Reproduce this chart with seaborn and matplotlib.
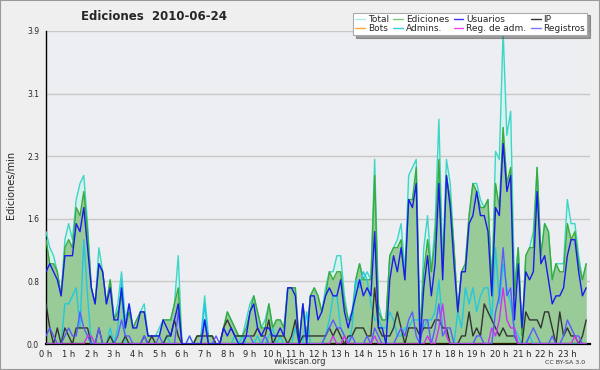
import numpy as np
import pandas as pd
import matplotlib
matplotlib.use("Agg")
import matplotlib.pyplot as plt
from matplotlib.lines import Line2D
from matplotlib.patches import Rectangle
import seaborn as sns

# edits per minute, one value per 10 minutes (6 per hour)
total = [
    1.4, 1.2, 1.1, 0.9, 0.6, 1.3,
    1.5, 1.3, 1.8, 2.0, 2.1, 1.5,
    0.7, 0.5, 1.2, 0.9, 0.5, 0.8,
    0.3, 0.5, 0.9, 0.3, 0.5, 0.2,
    0.3, 0.4, 0.5, 0.1, 0.1, 0.1,
    0.2, 0.3, 0.3, 0.3, 0.5, 1.1,
    0.0, 0.0, 0.1, 0.0, 0.1, 0.1,
    0.6, 0.1, 0.1, 0.0, 0.0, 0.2,
    0.4, 0.3, 0.2, 0.1, 0.1, 0.3,
    0.5, 0.6, 0.4, 0.2, 0.3, 0.5,
    0.2, 0.3, 0.3, 0.2, 0.7, 0.7,
    0.7, 0.0, 0.5, 0.1, 0.6, 0.7,
    0.6, 0.4, 0.7, 0.9, 0.9, 1.1,
    1.1, 0.6, 0.3, 0.4, 0.8, 1.0,
    0.8, 0.9, 0.8, 2.3, 0.5, 0.3,
    0.3, 1.1, 1.2, 1.3, 1.5, 0.9,
    2.1, 2.2, 2.3, 0.1, 1.2, 1.6,
    0.9, 1.5, 2.8, 1.0, 2.3, 2.0,
    1.2, 0.4, 0.9, 1.0, 1.6, 2.0,
    2.0, 1.8, 1.7, 1.8, 0.7, 2.4,
    2.3, 3.9, 2.6, 2.9, 0.7, 1.2,
    0.1, 1.1, 1.2, 1.4, 2.2, 1.1,
    1.5, 1.4, 0.8, 1.0, 1.0, 1.0,
    1.8, 1.5, 1.5, 1.1, 0.8, 1.0,
]
ediciones = [
    1.3, 1.0, 1.0, 0.9, 0.6, 1.2,
    1.3, 1.2, 1.7, 1.6, 1.9, 1.4,
    0.7, 0.5, 1.0, 0.9, 0.5, 0.8,
    0.3, 0.4, 0.6, 0.2, 0.4, 0.2,
    0.3, 0.4, 0.4, 0.1, 0.1, 0.1,
    0.1, 0.3, 0.3, 0.3, 0.5, 0.7,
    0.0, 0.0, 0.0, 0.0, 0.1, 0.1,
    0.3, 0.1, 0.1, 0.0, 0.0, 0.2,
    0.4, 0.3, 0.2, 0.1, 0.1, 0.2,
    0.4, 0.6, 0.4, 0.2, 0.2, 0.5,
    0.2, 0.3, 0.3, 0.2, 0.7, 0.7,
    0.7, 0.0, 0.5, 0.1, 0.6, 0.7,
    0.6, 0.4, 0.6, 0.9, 0.8, 0.9,
    0.9, 0.5, 0.3, 0.3, 0.8, 1.0,
    0.8, 0.8, 0.8, 2.1, 0.4, 0.3,
    0.3, 1.1, 1.2, 1.2, 1.3, 0.8,
    1.8, 1.8, 2.2, 0.1, 0.9, 1.3,
    0.9, 1.3, 2.3, 0.9, 2.1, 1.8,
    1.2, 0.4, 0.9, 1.0, 1.6, 2.0,
    1.9, 1.7, 1.7, 1.8, 0.7, 2.0,
    1.7, 2.7, 2.0, 2.2, 0.6, 1.2,
    0.1, 1.1, 1.2, 1.2, 2.2, 1.1,
    1.5, 1.4, 0.8, 1.0, 0.9, 0.9,
    1.5, 1.3, 1.4, 1.0, 0.8, 1.0,
]
usuarios = [
    0.9, 1.0, 0.9, 0.8, 0.6, 1.1,
    1.1, 1.1, 1.5, 1.4, 1.7, 1.2,
    0.7, 0.5, 1.0, 0.9, 0.5, 0.7,
    0.3, 0.3, 0.7, 0.2, 0.5, 0.2,
    0.2, 0.4, 0.4, 0.1, 0.1, 0.1,
    0.1, 0.3, 0.2, 0.1, 0.3, 0.5,
    0.0, 0.0, 0.0, 0.0, 0.0, 0.0,
    0.3, 0.0, 0.0, 0.0, 0.0, 0.2,
    0.1, 0.2, 0.1, 0.0, 0.0, 0.1,
    0.4, 0.5, 0.2, 0.1, 0.2, 0.2,
    0.1, 0.1, 0.2, 0.1, 0.7, 0.7,
    0.6, 0.0, 0.5, 0.0, 0.6, 0.6,
    0.3, 0.4, 0.6, 0.7, 0.6, 0.6,
    0.8, 0.4, 0.2, 0.4, 0.6, 0.8,
    0.6, 0.7, 0.6, 1.4, 0.2, 0.2,
    0.0, 0.8, 1.1, 0.9, 1.2, 0.8,
    1.8, 1.7, 2.0, 0.0, 0.7, 1.1,
    0.6, 1.0, 2.0, 0.8, 2.1, 1.7,
    1.0, 0.4, 0.9, 0.9, 1.5, 1.6,
    1.9, 1.6, 1.6, 1.4, 0.6, 1.7,
    1.6, 2.5, 1.9, 2.1, 0.3, 1.0,
    0.2, 0.9, 0.8, 0.9, 1.9, 1.0,
    1.1, 0.8, 0.5, 0.6, 0.6, 0.7,
    1.1, 1.3, 1.3, 0.9, 0.6, 0.7,
]
ip = [
    0.5, 0.2, 0.0, 0.2, 0.0, 0.2,
    0.1, 0.0, 0.2, 0.2, 0.2, 0.2,
    0.0, 0.0, 0.2, 0.0, 0.0, 0.1,
    0.0, 0.0, 0.0, 0.1, 0.0, 0.0,
    0.0, 0.0, 0.1, 0.0, 0.1, 0.0,
    0.0, 0.0, 0.1, 0.1, 0.3, 0.1,
    0.0, 0.0, 0.0, 0.0, 0.1, 0.1,
    0.1, 0.1, 0.1, 0.0, 0.0, 0.2,
    0.3, 0.2, 0.1, 0.1, 0.1, 0.1,
    0.1, 0.1, 0.2, 0.1, 0.1, 0.3,
    0.0, 0.1, 0.1, 0.1, 0.0, 0.1,
    0.3, 0.0, 0.1, 0.1, 0.1, 0.1,
    0.1, 0.1, 0.1, 0.2, 0.1, 0.2,
    0.1, 0.0, 0.1, 0.1, 0.2, 0.2,
    0.2, 0.1, 0.1, 0.7, 0.2, 0.1,
    0.1, 0.1, 0.2, 0.4, 0.2, 0.0,
    0.2, 0.2, 0.2, 0.1, 0.2, 0.2,
    0.2, 0.3, 0.3, 0.2, 0.2, 0.0,
    0.0, 0.0, 0.1, 0.1, 0.4, 0.1,
    0.2, 0.1, 0.5, 0.4, 0.3, 0.2,
    0.1, 0.2, 0.1, 0.1, 0.1, 0.0,
    0.0, 0.4, 0.3, 0.3, 0.3, 0.2,
    0.4, 0.4, 0.2, 0.0, 0.4, 0.1,
    0.2, 0.1, 0.1, 0.0, 0.1, 0.3,
]
bots = [
    0, 0, 0, 0, 0, 0, 0, 0, 0, 0, 0, 0,
    0, 0, 0, 0, 0, 0, 0, 0, 0, 0, 0, 0,
    0, 0, 0, 0, 0, 0, 0, 0, 0, 0, 0, 0,
    0, 0, 0, 0, 0, 0, 0, 0, 0, 0, 0, 0,
    0, 0, 0, 0, 0, 0, 0, 0, 0, 0, 0, 0,
    0, 0, 0, 0, 0, 0, 0, 0, 0, 0, 0, 0,
    0, 0, 0, 0, 0, 0, 0, 0, 0, 0, 0, 0,
    0, 0, 0, 0, 0, 0, 0, 0, 0, 0, 0, 0,
    0, 0, 0, 0, 0, 0, 0, 0, 0, 0, 0, 0,
    0, 0, 0, 0, 0, 0, 0, 0, 0, 0, 0, 0,
    0, 0, 0, 0, 0, 0, 0, 0, 0, 0, 0, 0,
    0, 0, 0, 0, 0, 0, 0, 0, 0, 0, 0, 0,
]
admins = [
    0.0, 0.0, 0.0, 0.0, 0.0, 0.5,
    0.5, 0.6, 0.7, 0.2, 1.3, 0.6,
    0.0, 0.0, 0.0, 0.0, 0.0, 0.2,
    0.0, 0.2, 0.8, 0.0, 0.0, 0.0,
    0.0, 0.0, 0.0, 0.0, 0.0, 0.0,
    0.0, 0.0, 0.1, 0.0, 0.0, 0.0,
    0.0, 0.0, 0.0, 0.0, 0.0, 0.0,
    0.5, 0.0, 0.0, 0.0, 0.0, 0.0,
    0.0, 0.0, 0.1, 0.0, 0.1, 0.0,
    0.0, 0.0, 0.1, 0.0, 0.0, 0.1,
    0.2, 0.0, 0.1, 0.0, 0.0, 0.0,
    0.2, 0.0, 0.0, 0.4, 0.0, 0.0,
    0.0, 0.0, 0.1, 0.3, 0.6, 0.6,
    0.2, 0.1, 0.0, 0.2, 0.8, 0.7,
    0.9, 0.8, 0.5, 0.3, 0.3, 0.2,
    0.2, 0.4, 0.3, 0.1, 0.1, 0.2,
    0.2, 0.3, 0.3, 0.3, 0.2, 0.3,
    0.3, 0.4, 0.8, 0.2, 0.2, 0.0,
    0.0, 0.4, 0.2, 0.7, 0.5, 0.7,
    0.4, 0.6, 0.7, 0.7, 0.3, 1.2,
    0.5, 1.0, 0.7, 0.5, 0.2, 0.1,
    0.0, 0.0, 0.1, 0.0, 0.0, 0.0,
    0.0, 0.0, 0.0, 0.0, 0.0, 0.0,
    0.0, 0.0, 0.0, 0.0, 0.0, 0.0,
]
reg_adm = [
    0.0, 0.0, 0.0, 0.0, 0.0, 0.0,
    0.0, 0.0, 0.0, 0.0, 0.0, 0.1,
    0.1, 0.0, 0.0, 0.0, 0.0, 0.0,
    0.0, 0.0, 0.0, 0.0, 0.0, 0.0,
    0.0, 0.0, 0.0, 0.0, 0.0, 0.0,
    0.0, 0.0, 0.0, 0.0, 0.0, 0.0,
    0.0, 0.0, 0.0, 0.0, 0.0, 0.0,
    0.0, 0.0, 0.0, 0.0, 0.0, 0.0,
    0.0, 0.0, 0.0, 0.0, 0.0, 0.0,
    0.0, 0.0, 0.0, 0.0, 0.0, 0.0,
    0.0, 0.0, 0.0, 0.0, 0.0, 0.0,
    0.0, 0.0, 0.0, 0.0, 0.0, 0.0,
    0.0, 0.0, 0.0, 0.0, 0.1, 0.0,
    0.0, 0.1, 0.0, 0.0, 0.0, 0.0,
    0.0, 0.0, 0.0, 0.1, 0.0, 0.0,
    0.0, 0.0, 0.0, 0.0, 0.0, 0.0,
    0.0, 0.0, 0.0, 0.0, 0.0, 0.1,
    0.0, 0.0, 0.2, 0.5, 0.1, 0.0,
    0.0, 0.0, 0.0, 0.0, 0.0, 0.0,
    0.0, 0.0, 0.0, 0.0, 0.2, 0.1,
    0.3, 0.7, 0.3, 0.2, 0.2, 0.0,
    0.0, 0.0, 0.0, 0.0, 0.0, 0.0,
    0.0, 0.0, 0.0, 0.0, 0.0, 0.0,
    0.0, 0.0, 0.1, 0.0, 0.0, 0.0,
]
registros = [
    0.1, 0.2, 0.1, 0.0, 0.0, 0.1,
    0.2, 0.1, 0.1, 0.4, 0.2, 0.1,
    0.0, 0.0, 0.2, 0.0, 0.0, 0.0,
    0.0, 0.1, 0.3, 0.1, 0.1, 0.0,
    0.0, 0.0, 0.1, 0.0, 0.0, 0.0,
    0.1, 0.0, 0.0, 0.0, 0.0, 0.4,
    0.0, 0.0, 0.1, 0.0, 0.0, 0.0,
    0.3, 0.0, 0.0, 0.1, 0.0, 0.0,
    0.0, 0.0, 0.0, 0.0, 0.0, 0.1,
    0.1, 0.0, 0.0, 0.0, 0.1, 0.0,
    0.0, 0.0, 0.0, 0.0, 0.0, 0.0,
    0.0, 0.0, 0.0, 0.0, 0.0, 0.0,
    0.0, 0.0, 0.1, 0.2, 0.3, 0.2,
    0.2, 0.1, 0.0, 0.1, 0.0, 0.0,
    0.0, 0.1, 0.0, 0.2, 0.1, 0.0,
    0.0, 0.0, 0.0, 0.1, 0.2, 0.1,
    0.3, 0.4, 0.1, 0.0, 0.3, 0.3,
    0.0, 0.2, 0.5, 0.1, 0.2, 0.2,
    0.0, 0.0, 0.0, 0.0, 0.0, 0.0,
    0.1, 0.1, 0.0, 0.0, 0.0, 0.4,
    0.6, 1.2, 0.6, 0.7, 0.1, 0.0,
    0.0, 0.0, 0.1, 0.2, 0.1, 0.0,
    0.0, 0.0, 0.1, 0.0, 0.0, 0.1,
    0.3, 0.2, 0.1, 0.1, 0.0, 0.0,
]

hour_labels = [f"{h} h" for h in range(24)]
y_top = 3.9

sns.set_style("white")
plt.rcParams['font.family'] = ['DejaVu Sans']

df = pd.DataFrame({
    "t": np.arange(len(total)) / 6.0,
    "Total": total, "Ediciones": ediciones, "Usuarios": usuarios, "IP": ip,
    "Bots": bots, "Admins.": admins, "Reg. de adm.": reg_adm, "Registros": registros,
})

fig = plt.figure(figsize=(6, 3.7), dpi=100, facecolor="#efefef")
ax = fig.add_axes([46 / 600, 26 / 370, 544 / 600, 313 / 370])
ax.set_facecolor("#eceef1")

# filled areas first
ax.fill_between(df["t"], df["Total"], color="#d8f3ee", lw=0, zorder=1)
ax.fill_between(df["t"], df["Ediciones"], color="#98cb98", lw=0, zorder=1)

colors = {
    "Total": "#3dd6c6",
    "Ediciones": "#3aaa3a",
    "Bots": "#ffa500",
    "Admins.": "#22c8e0",
    "IP": "#333333",
    "Registros": "#5a5aff",
    "Reg. de adm.": "#cc33ee",
    "Usuarios": "#1a1aee",
}
for name, col in colors.items():
    sns.lineplot(data=df, x="t", y=name, color=col, lw=1.0, ax=ax, legend=False, zorder=3)

ax.set_xlabel("")
ax.set_ylabel("")
ax.set_xlim(0, 24)
ax.set_ylim(0, y_top)

ax.set_xticks(range(24))
ax.set_xticklabels(hour_labels)
ax.set_xticks(np.arange(0, 24.01, 1 / 6), minor=True)
yt = [y_top * k / 5 for k in range(6)]
ax.set_yticks(yt)
ax.set_yticklabels([f"{v:.1f}" for v in yt])
ax.set_yticks([y_top * k / 20 for k in range(21)], minor=True)

ax.tick_params(axis="x", which="both", direction="out", length=3.5, width=1, labelsize=6, pad=0.5)
ax.tick_params(axis="y", which="both", direction="out", length=4, width=1, labelsize=5.5, pad=1)
ax.grid(axis="y", which="major", color="#c8c8c8", lw=1)
ax.set_axisbelow(True)

for s in ["top", "right"]:
    ax.spines[s].set_visible(False)
ax.spines["left"].set_color("black")
ax.spines["left"].set_linewidth(1)
ax.spines["bottom"].set_color("black")
ax.spines["bottom"].set_linewidth(1.6)

# legend, row-wise order via column-wise filling
leg_colors = {
    "Total": "#a6ece6", "Bots": "#ffaa33",
    "Ediciones": "#77cc77", "Admins.": "#33ccdd",
    "Usuarios": "#3333ff", "Reg. de adm.": "#ee44ee",
    "IP": "#333333", "Registros": "#7777ff",
}
handles = [Line2D([0], [0], color=c, lw=1) for c in leg_colors.values()]
leg = fig.legend(handles, list(leg_colors.keys()), ncol=4, loc="upper right",
                 bbox_to_anchor=(592 / 600, 1 - 8 / 370), fontsize=6.5,
                 frameon=True, fancybox=False, shadow=True, handlelength=1.1,
                 handletextpad=0.3, columnspacing=0.5, borderpad=0.25,
                 labelspacing=0.05)
leg.get_frame().set_edgecolor("#aaaaaa")
leg.get_frame().set_linewidth(0.8)

fig.text(154 / 600, 1 - 16 / 370, "Ediciones  2010-06-24", ha="center", va="center",
         fontsize=8.5, fontweight="bold")
fig.text(11 / 600, 1 - 185 / 370, "Ediciones/min", rotation=90, ha="center", va="center",
         fontsize=7)
fig.text(300 / 600, 1 - 362 / 370, "wikiscan.org", ha="center", va="center",
         fontsize=6, color="#333333")
fig.text(565 / 600, 1 - 363 / 370, "CC BY-SA 3.0", ha="center", va="center",
         fontsize=4.5, color="#333333")

fig.patches.append(Rectangle((0, 0), 1, 1, transform=fig.transFigure, fill=False,
                             edgecolor="#999999", lw=1.5))

fig.savefig("out.png", dpi=100, facecolor=fig.get_facecolor())
